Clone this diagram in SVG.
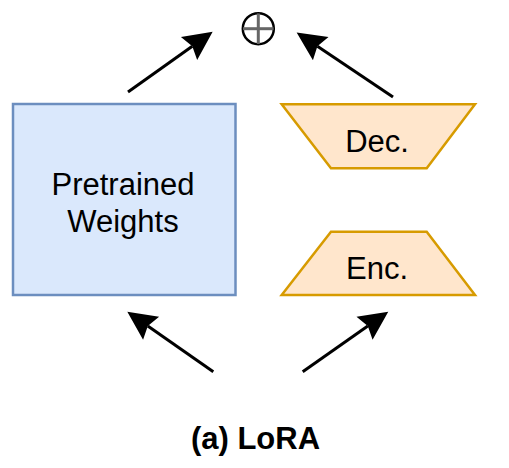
<svg xmlns="http://www.w3.org/2000/svg" width="509" height="468" viewBox="0 0 509 468">
<style>
.lbl{font-family:"Liberation Sans",Arial,Helvetica,sans-serif;font-size:31px;fill:#000;text-anchor:middle}
.bold{font-weight:bold}
.edge{stroke:#000;stroke-width:3;fill:none;marker-end:url(#arr)}
.enc{fill:#ffe6cc;stroke:#d79b00;stroke-width:2.5}
</style>
<defs>
<marker id="arr" markerUnits="userSpaceOnUse" viewBox="-5 -15 31 30" markerWidth="31" markerHeight="30" refX="0" refY="0" orient="auto">
<path d="M25,0 L-4,-14 L0,0 L-4,14 Z" fill="#000"/>
</marker>
</defs>
<rect width="509" height="468" fill="#fff"/>
<g id="connectors">
<line class="edge" x1="128" y1="92" x2="192.3" y2="46.2"/>
<line class="edge" x1="393" y1="97" x2="317.4" y2="46.3"/>
<line class="edge" x1="213.3" y1="371.7" x2="147.8" y2="326"/>
<line class="edge" x1="302.7" y1="371.7" x2="367.8" y2="326"/>
</g>
<g id="sum">
<circle cx="258.3" cy="28.7" r="15.5" fill="#fff" stroke="#000" stroke-width="2.5"/>
<line x1="243" y1="28.7" x2="273.6" y2="28.7" stroke="#666" stroke-width="3"/>
<line x1="258.3" y1="13.4" x2="258.3" y2="44" stroke="#666" stroke-width="3"/>
</g>
<g id="pretrained">
<rect x="13" y="104" width="222.5" height="191" fill="#dae8fc" stroke="#6c8ebf" stroke-width="2.5"/>
<text class="lbl" x="123" y="195">Pretrained</text>
<text class="lbl" x="123" y="232">Weights</text>
</g>
<g id="dec">
<polygon class="enc" points="281.7,104.3 475,104.3 426.7,168.3 331,168.3"/>
<text class="lbl" x="377" y="151.5">Dec.</text>
</g>
<g id="enc">
<polygon class="enc" points="331,231.7 426.7,231.7 475,295 281.7,295"/>
<text class="lbl" x="377" y="278.5">Enc.</text>
</g>
<g id="caption">
<text class="lbl bold" x="255.5" y="448.5">(a) LoRA</text>
</g>
</svg>
